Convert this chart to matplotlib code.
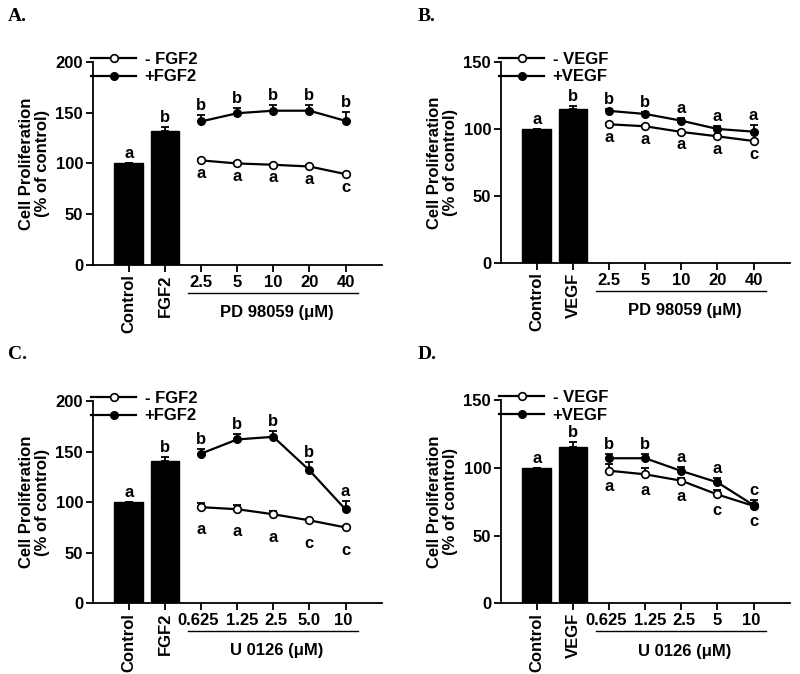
import matplotlib.pyplot as plt
import numpy as np

plt.rcParams['font.family'] = 'Liberation Sans'
plt.rcParams['font.weight'] = 'bold'

# panel A: FGF2 + PD 98059
a_bar_vals = [100, 132]
a_bar_err = [0, 4]
a_bar_letters = ['a', 'b']
a_doses = ['2.5', '5', '10', '20', '40']
a_minus = [103, 100, 98.7, 97, 89.5]
a_minus_err = [1, 1, 1, 1, 1]
a_plus = [141.4, 149.5, 152, 152, 142]
a_plus_err = [6, 5, 5.5, 5.5, 9]
a_minus_letters = ['a', 'a', 'a', 'a', 'c']
a_plus_letters = ['b', 'b', 'b', 'b', 'b']

# panel B: VEGF + PD 98059
b_bar_vals = [100, 115]
b_bar_err = [0, 2]
b_bar_letters = ['a', 'b']
b_doses = ['2.5', '5', '10', '20', '40']
b_minus = [103.5, 102, 97.8, 94.5, 91]
b_minus_err = [1, 1, 1, 1, 1]
b_plus = [113.5, 111.2, 106.2, 100, 98]
b_plus_err = [1.5, 1.5, 2, 2, 5]
b_minus_letters = ['a', 'a', 'a', 'a', 'c']
b_plus_letters = ['b', 'b', 'a', 'a', 'a']

# panel C: FGF2 + U 0126
c_bar_vals = [100, 141]
c_bar_err = [0, 4]
c_bar_letters = ['a', 'b']
c_doses = ['0.625', '1.25', '2.5', '5.0', '10']
c_minus = [95, 93, 88, 82, 75]
c_minus_err = [4.3, 3.7, 3, 1, 1]
c_plus = [148, 162, 164.6, 131.5, 92.8]
c_plus_err = [4.6, 5.5, 5.6, 7.8, 8.5]
c_minus_letters = ['a', 'a', 'a', 'c', 'c']
c_plus_letters = ['b', 'b', 'b', 'b', 'a']

# panel D: VEGF + U 0126
d_bar_vals = [100, 115.6]
d_bar_err = [0, 3.5]
d_bar_letters = ['a', 'b']
d_doses = ['0.625', '1.25', '2.5', '5', '10']
d_minus = [98, 95.3, 90.6, 80.4, 72]
d_minus_err = [5, 4.7, 2, 3.5, 1]
d_plus = [107.2, 107.2, 97.8, 89.4, 72.5]
d_plus_err = [3, 3, 3, 3.5, 4]
d_minus_letters = ['a', 'a', 'a', 'c', 'c']
d_plus_letters = ['b', 'b', 'a', 'a', 'c']

FS = 12


def panel(ax, bar_vals, bar_err, bar_letters, growth, doses, minus, minus_err,
          plus, plus_err, minus_letters, plus_letters, drug, ymax, below_off,
          nudge=(0, 0, 0, 0, 0)):
    xb = np.arange(2)
    xd = np.arange(2, 7)
    ax.bar(xb, bar_vals, width=0.8, color='black', edgecolor='black', zorder=2)
    ax.errorbar(xb, bar_vals, yerr=[np.zeros(2), bar_err], fmt='none',
                ecolor='black', elinewidth=1.3, capsize=3, capthick=1.3)
    for x, v, e, t in zip(xb, bar_vals, bar_err, bar_letters):
        ax.annotate(t, (x, v + e), xytext=(0, 1.5), textcoords='offset points',
                    ha='center', va='bottom', fontsize=FS, fontweight='bold')

    ax.errorbar(xd, minus, yerr=[np.zeros(5), minus_err], fmt='none',
                ecolor='black', elinewidth=1.3, capsize=3, capthick=1.3)
    ax.errorbar(xd, plus, yerr=[np.zeros(5), plus_err], fmt='none',
                ecolor='black', elinewidth=1.3, capsize=3, capthick=1.3)
    ax.plot(xd, minus, '-o', color='black', mfc='white', mec='black', ms=5.5,
            mew=1.2, lw=1.6, label='- ' + growth, zorder=3)
    ax.plot(xd, plus, '-o', color='black', mfc='black', mec='black', ms=5.5,
            lw=1.6, label='+' + growth, zorder=3)
    for x, v, e, t in zip(xd, plus, plus_err, plus_letters):
        ax.annotate(t, (x, v + e), xytext=(0, 1.5), textcoords='offset points',
                    ha='center', va='bottom', fontsize=FS, fontweight='bold')
    for x, v, t in zip(xd, minus, minus_letters):
        ax.annotate(t, (x, v), xytext=(0, -below_off), textcoords='offset points',
                    ha='center', va='top', fontsize=FS, fontweight='bold')

    ax.set_xlim(-1, 7)
    ax.set_ylim(0, ymax)
    ax.set_yticks(np.arange(0, ymax + 1, 50))
    ax.set_xticks(np.arange(7))
    ax.set_xticklabels(['Control', growth] + [''] * 5)
    for lab in ax.get_xticklabels()[:2]:
        lab.set_rotation(90)
    # dose labels drawn by hand so the crowded ones can be nudged apart
    for x, t, dx in zip(xd, doses, nudge):
        ax.annotate(t, (x, 0), xycoords=('data', 'axes fraction'),
                    xytext=(dx, -7), textcoords='offset points',
                    ha='center', va='top', fontsize=FS, fontweight='bold')
    ax.tick_params(direction='out', length=5, width=1.3, labelsize=FS, pad=2)
    for s in ['top', 'right']:
        ax.spines[s].set_visible(False)
    for s in ['left', 'bottom']:
        ax.spines[s].set_linewidth(1.3)
    ax.set_ylabel('Cell Proliferation\n(% of control)', fontsize=FS,
                  fontweight='bold', labelpad=4, linespacing=1.1)

    ax.plot([1.65, 6.35], [-0.138, -0.138], color='black', lw=1,
            transform=ax.get_xaxis_transform(), clip_on=False)
    ax.text(4.1, -0.236, drug + ' (μM)', transform=ax.get_xaxis_transform(),
            ha='center', va='center', fontsize=FS, fontweight='bold')

    ax.legend(loc='upper left', bbox_to_anchor=(-0.005, 1.05), frameon=False,
              handlelength=2.7, handletextpad=0.5, borderpad=0, borderaxespad=0,
              labelspacing=0.15, prop={'size': FS, 'weight': 'bold'})


fig = plt.figure(figsize=(8, 6.74), dpi=100)
axA = fig.add_axes([0.116, 0.607, 0.361, 0.301])
axB = fig.add_axes([0.626, 0.610, 0.361, 0.298])
axC = fig.add_axes([0.116, 0.105, 0.361, 0.300])
axD = fig.add_axes([0.626, 0.105, 0.361, 0.301])

panel(axA, a_bar_vals, a_bar_err, a_bar_letters, 'FGF2', a_doses, a_minus,
      a_minus_err, a_plus, a_plus_err, a_minus_letters, a_plus_letters,
      'PD 98059', 200, 4)
panel(axB, b_bar_vals, b_bar_err, b_bar_letters, 'VEGF', b_doses, b_minus,
      b_minus_err, b_plus, b_plus_err, b_minus_letters, b_plus_letters,
      'PD 98059', 150, 4)
panel(axC, c_bar_vals, c_bar_err, c_bar_letters, 'FGF2', c_doses, c_minus,
      c_minus_err, c_plus, c_plus_err, c_minus_letters, c_plus_letters,
      'U 0126', 200, 11, nudge=(-2.5, 3.5, 2, 0, -2))
panel(axD, d_bar_vals, d_bar_err, d_bar_letters, 'VEGF', d_doses, d_minus,
      d_minus_err, d_plus, d_plus_err, d_minus_letters, d_plus_letters,
      'U 0126', 150, 6, nudge=(-2.5, 3.5, 2, 0, -2))

for x, y, t in [(0.01, 0.988, 'A.'), (0.522, 0.988, 'B.'),
                (0.01, 0.487, 'C.'), (0.522, 0.487, 'D.')]:
    fig.text(x, y, t, fontsize=14, fontweight='bold', family='Liberation Serif',
             va='top')

fig.savefig('out.png', dpi=100)
